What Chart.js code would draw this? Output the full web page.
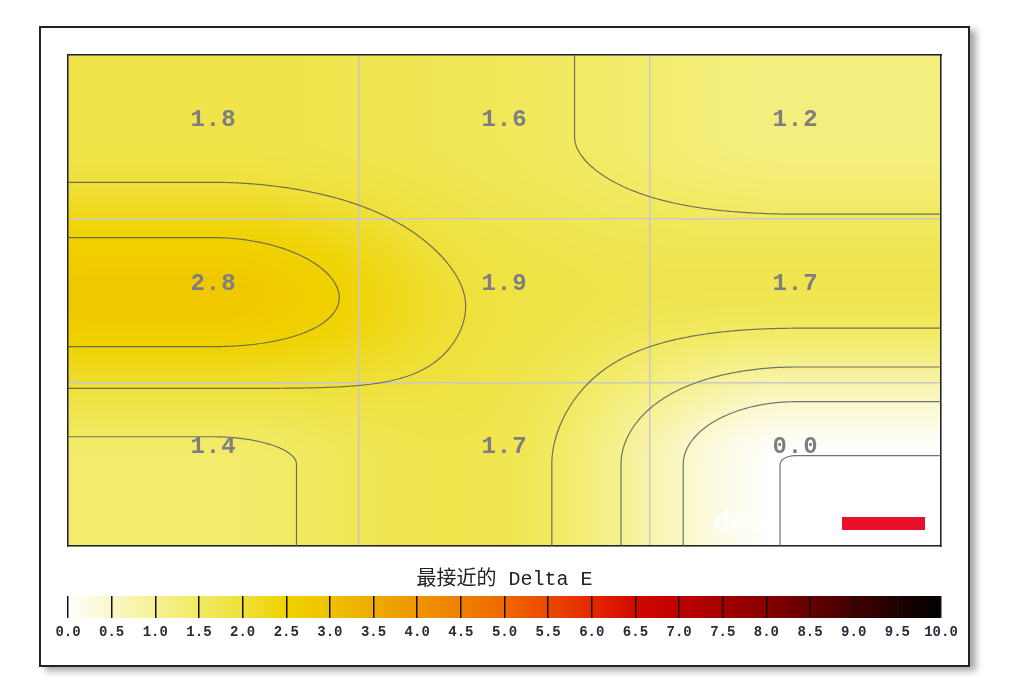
<!DOCTYPE html>
<html><head><meta charset="utf-8">
<script src="https://cdn.jsdelivr.net/npm/chart.js@4.4.0/dist/chart.umd.min.js"></script>
<style>
html,body{margin:0;padding:0;background:#fff}
body{width:1012px;height:681px;position:relative;overflow:hidden}
#frame{position:absolute;left:39px;top:26px;width:927px;height:637px;border:2px solid #222;box-shadow:6px 4px 7px rgba(0,0,0,0.35);background:#fff}
#c1{position:absolute;left:58px;top:45px;width:893px;height:511px}
#c2{position:absolute;left:40px;top:560px;width:930px;height:90px}
#redbar{position:absolute;left:842px;top:517px;width:83px;height:13px;background:#e8102a}
#wm{position:absolute;left:714px;top:502px;font:bold 26px "Open Sans",sans-serif;color:rgba(255,255,255,0.9);letter-spacing:-1px}
</style></head><body>
<div id="frame"></div>
<canvas id="c1" width="893" height="511"></canvas>
<div id="wm">data</div>
<div id="redbar"></div>
<canvas id="c2" width="930" height="90"></canvas>
<script>
// ---- data ----
const columnCenters = [0.5, 1.5, 2.5];
const rowCenters = [0.5, 1.5, 2.5];
const topRowValues = [1.8, 1.6, 1.2];
const middleRowValues = [2.8, 1.9, 1.7];
const bottomRowValues = [1.4, 1.7, 0.0];
const contourLevels = [0.0, 0.5, 1.0, 1.5, 2.0, 2.5];
const colorbarTicks = [0,0.5,1,1.5,2,2.5,3,3.5,4,4.5,5,5.5,6,6.5,7,7.5,8,8.5,9,9.5,10];
const colorbarColors = ['#ffffff','#faf7c8','#f6f193','#f1ea62','#efe03a','#f0d200','#efc200','#eeab00','#ef9500','#ef7f00','#ef6800','#ec4800','#e42800','#d20800','#bf0000','#a50000','#860000','#650000','#420000','#200000','#000000'];
const colorbarTitle = '最接近的 Delta E';

const grid = [topRowValues, middleRowValues, bottomRowValues];
const points = [];
rowCenters.forEach((ry, r) => columnCenters.forEach((cx, c) => points.push({x: cx, y: ry, v: grid[r][c]})));

const rgbStops = colorbarColors.map(h => [parseInt(h.slice(1,3),16), parseInt(h.slice(3,5),16), parseInt(h.slice(5,7),16)]);
function colorFor(v){
  if (v <= colorbarTicks[0]) return rgbStops[0];
  const n = colorbarTicks.length;
  if (v >= colorbarTicks[n-1]) return rgbStops[n-1];
  let i = 0; while (v > colorbarTicks[i+1]) i++;
  const t = (v - colorbarTicks[i]) / (colorbarTicks[i+1] - colorbarTicks[i]);
  const a = rgbStops[i], b = rgbStops[i+1];
  return [a[0]+(b[0]-a[0])*t, a[1]+(b[1]-a[1])*t, a[2]+(b[2]-a[2])*t];
}
// 1D cubic Hermite through the centres (central-difference tangents, flat at the ends)
function hermite1D(v, u){
  const n = v.length;
  u = Math.min(Math.max(u, 0), n-1);
  const i = Math.min(Math.floor(u), n-2), p = u - i;
  const m = k => (k === 0 || k === n-1) ? 0 : (v[k+1] - v[k-1]) / 2;
  const p2 = p*p, p3 = p2*p;
  return (2*p3-3*p2+1)*v[i] + (p3-2*p2+p)*m(i) + (-2*p3+3*p2)*v[i+1] + (p3-p2)*m(i+1);
}
function weights(val, centers){
  const u = (val - centers[0]) / (centers[1] - centers[0]);
  return centers.map((_, k) => hermite1D(centers.map((__, j) => j === k ? 1 : 0), u));
}
function field(x, y){
  const wx = weights(x, columnCenters), wy = weights(y, rowCenters);
  let s = 0;
  for (let r = 0; r < grid.length; r++) for (let c = 0; c < grid[r].length; c++) s += wy[r]*wx[c]*grid[r][c];
  return s;
}

const fieldPlugin = {
  id: 'field',
  beforeDraw(chart){
    const {ctx, chartArea: A, scales} = chart;
    const L = Math.round(A.left), T = Math.round(A.top), W = Math.round(A.right) - L, H = Math.round(A.bottom) - T;
    const img = ctx.createImageData(W, H);
    const wxs = [];
    for (let i = 0; i < W; i++) wxs.push(weights(scales.x.getValueForPixel(L + i + 0.5), columnCenters));
    for (let j = 0; j < H; j++){
      const wy = weights(scales.y.getValueForPixel(T + j + 0.5), rowCenters);
      for (let i = 0; i < W; i++){
        const wx = wxs[i];
        let s = 0;
        for (let r = 0; r < 3; r++) for (let c = 0; c < 3; c++) s += wy[r]*wx[c]*grid[r][c];
        const col = colorFor(s);
        const k = (j*W + i)*4;
        img.data[k] = col[0]; img.data[k+1] = col[1]; img.data[k+2] = col[2]; img.data[k+3] = 255;
      }
    }
    ctx.putImageData(img, L, T);
  },
  beforeDatasetsDraw(chart){
    const {ctx, chartArea: A, scales} = chart;
    const step = 2;
    const nx = Math.ceil((A.right - A.left)/step) + 1, ny = Math.ceil((A.bottom - A.top)/step) + 1;
    const px = [], py = [], vals = [];
    for (let i = 0; i < nx; i++) px.push(Math.min(A.left + i*step, A.right));
    for (let j = 0; j < ny; j++) py.push(Math.min(A.top + j*step, A.bottom));
    for (let j = 0; j < ny; j++){
      const row = []; const yv = scales.y.getValueForPixel(py[j]);
      for (let i = 0; i < nx; i++) row.push(field(scales.x.getValueForPixel(px[i]), yv));
      vals.push(row);
    }
    ctx.save();
    ctx.beginPath(); ctx.rect(A.left, A.top, A.right-A.left, A.bottom-A.top); ctx.clip();
    ctx.strokeStyle = 'rgba(90,90,90,0.85)'; ctx.lineWidth = 1.2;
    ctx.beginPath();
    contourLevels.forEach(lv0 => {
      const lv = lv0 === 0 ? 0.012 : lv0;
      for (let j = 0; j < ny-1; j++) for (let i = 0; i < nx-1; i++){
        const v0 = vals[j][i], v1 = vals[j][i+1], v2 = vals[j+1][i+1], v3 = vals[j+1][i];
        const corners = [[px[i],py[j],v0],[px[i+1],py[j],v1],[px[i+1],py[j+1],v2],[px[i],py[j+1],v3]];
        const pts = [];
        for (let e = 0; e < 4; e++){
          const a = corners[e], b = corners[(e+1)%4];
          if ((a[2] < lv) !== (b[2] < lv)){
            const t = (lv - a[2])/(b[2]-a[2]);
            pts.push([a[0]+(b[0]-a[0])*t, a[1]+(b[1]-a[1])*t]);
          }
        }
        if (pts.length === 2){ ctx.moveTo(pts[0][0],pts[0][1]); ctx.lineTo(pts[1][0],pts[1][1]); }
        else if (pts.length === 4){
          ctx.moveTo(pts[0][0],pts[0][1]); ctx.lineTo(pts[1][0],pts[1][1]);
          ctx.moveTo(pts[2][0],pts[2][1]); ctx.lineTo(pts[3][0],pts[3][1]);
        }
      }
    });
    ctx.stroke();
    ctx.restore();
  },
  afterDatasetsDraw(chart){
    const {ctx} = chart;
    const meta = chart.getDatasetMeta(0);
    ctx.save();
    ctx.font = 'bold 24px "Liberation Mono", monospace';
    ctx.fillStyle = '#7d7d82';
    ctx.textAlign = 'center'; ctx.textBaseline = 'middle';
    try { ctx.letterSpacing = '1px'; } catch(e) {}
    meta.data.forEach((el, k) => ctx.fillText(points[k].v.toFixed(1), el.x, el.y - 17));
    ctx.restore();
  }
};

const borderAxis = {display:true, color:'#222', width:1.5};
new Chart(document.getElementById('c1'), {
  type: 'scatter',
  data: {datasets: [{data: points, pointRadius: 0, pointHoverRadius: 0}]},
  options: {
    responsive: false, animation: false, events: [],
    layout: {padding: 10},
    plugins: {legend: {display: false}, tooltip: {enabled: false}},
    scales: {
      x: {type: 'linear', min: 0, max: 3, ticks: {display: false, stepSize: 1}, grid: {color: '#c8c8c8', lineWidth: 1.5, drawTicks: false}, border: borderAxis},
      y: {type: 'linear', min: 0, max: 3, reverse: true, ticks: {display: false, stepSize: 1}, grid: {color: '#c8c8c8', lineWidth: 1.5, drawTicks: false}, border: borderAxis},
      x2: {type: 'linear', position: 'top', min: 0, max: 3, ticks: {display: false}, grid: {display: false, drawTicks: false}, border: borderAxis},
      y2: {type: 'linear', position: 'right', min: 0, max: 3, ticks: {display: false}, grid: {display: false, drawTicks: false}, border: borderAxis}
    }
  },
  plugins: [fieldPlugin]
});

new Chart(document.getElementById('c2'), {
  type: 'bar',
  data: {labels: [''], datasets: [{
    data: [[colorbarTicks[0], colorbarTicks[colorbarTicks.length-1]]],
    barPercentage: 1, categoryPercentage: 1, borderWidth: 0,
    backgroundColor: (c) => {
      const ch = c.chart; if (!ch.chartArea) return colorbarColors[0];
      const xs = ch.scales.x;
      const x0 = xs.getPixelForValue(colorbarTicks[0]), x1 = xs.getPixelForValue(colorbarTicks[colorbarTicks.length-1]);
      const g = ch.ctx.createLinearGradient(x0, 0, x1, 0);
      colorbarTicks.forEach((t, i) => g.addColorStop((t - colorbarTicks[0])/(colorbarTicks[colorbarTicks.length-1]-colorbarTicks[0]), colorbarColors[i]));
      return g;
    }
  }]},
  options: {
    indexAxis: 'y', responsive: false, animation: false, events: [],
    layout: {padding: {left: 28, right: 29, top: 0, bottom: 0}},
    plugins: {
      legend: {display: false}, tooltip: {enabled: false},
      title: {display: true, text: colorbarTitle, color: '#222', font: {family: '"Liberation Mono", "Noto Sans CJK SC", monospace', size: 20, weight: 'normal'}, padding: {top: 8, bottom: 4}}
    },
    scales: {
      x: {type: 'linear', min: 0, max: 10, afterBuildTicks: (s) => { s.ticks = colorbarTicks.map(v => ({value: v})); },
          afterFit: (s) => { s.height = 32; },
          ticks: {autoSkip: false, maxRotation: 0, padding: 6, color: '#2a2a3a', font: {family: '"Liberation Mono", monospace', size: 14, weight: 'bold'}, callback: (v) => Number(v).toFixed(1)},
          grid: {color: '#111', lineWidth: 1.5, drawTicks: false, z: 1}, border: {display: false}},
      y: {display: false}
    }
  }
});
</script>
</body></html>
